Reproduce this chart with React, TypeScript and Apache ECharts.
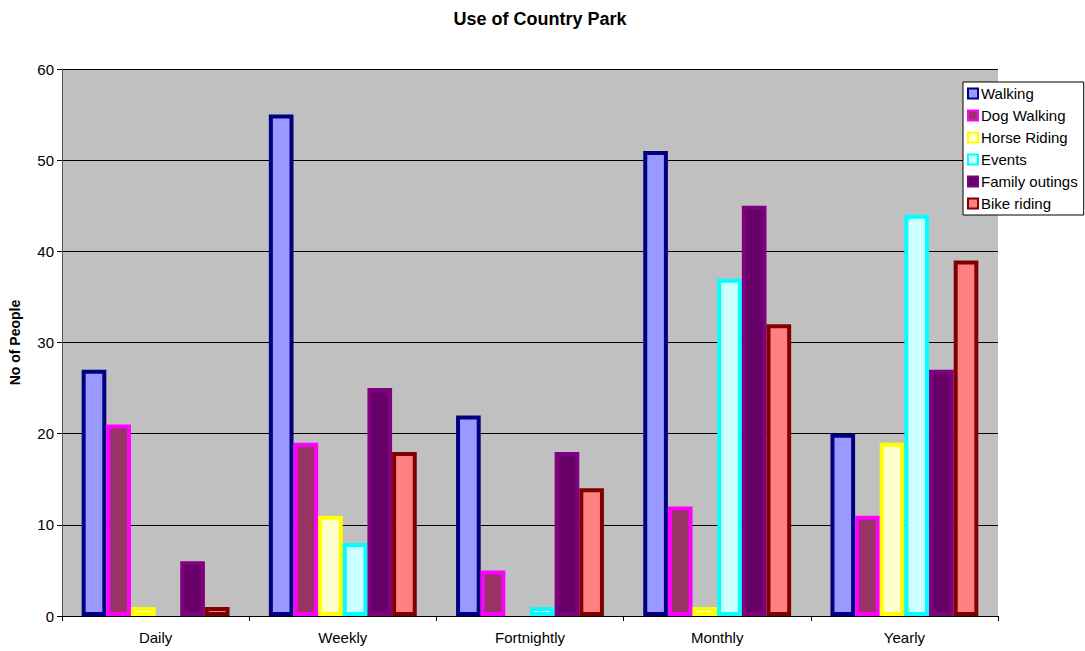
import React, { useEffect, useRef } from "react";
import * as echarts from "echarts";

const categories = ["Daily", "Weekly", "Fortnightly", "Monthly", "Yearly"];
const walking = [27, 55, 22, 51, 20];
const dogWalking = [21, 19, 5, 12, 11];
const horseRiding = [1, 11, 0, 1, 19];
const events = [0, 8, 1, 37, 44];
const familyOutings = [6, 25, 18, 45, 27];
const bikeRiding = [1, 18, 14, 32, 39];

const seriesDefs = [
  { name: "Walking", data: walking, fill: "#9999FF", border: "#000080" },
  { name: "Dog Walking", data: dogWalking, fill: "#993366", border: "#FF00FF" },
  { name: "Horse Riding", data: horseRiding, fill: "#FFFFCC", border: "#FFFF00" },
  { name: "Events", data: events, fill: "#CCFFFF", border: "#00FFFF" },
  { name: "Family outings", data: familyOutings, fill: "#660066", border: "#800080" },
  { name: "Bike riding", data: bikeRiding, fill: "#FF8080", border: "#800000" },
];

export default function App() {
  const ref = useRef<HTMLDivElement>(null);
  useEffect(() => {
    if (!ref.current) return;
    const chart = echarts.init(ref.current, undefined, { renderer: "svg" });
    const font = "Arial, 'Liberation Sans', sans-serif";
    chart.setOption({
      animation: false,
      backgroundColor: "#FFFFFF",
      textStyle: { fontFamily: font },
      title: {
        text: "Use of Country Park",
        left: 535,
        top: 5,
        textAlign: "center",
        textStyle: { fontSize: 18, fontWeight: "bold", color: "#000", fontFamily: font },
      },
      legend: {
        orient: "vertical",
        left: 963,
        top: 82,
        itemWidth: 10,
        itemHeight: 10,
        itemGap: 7,
        padding: [4, 6, 4, 4],
        backgroundColor: "#FFFFFF",
        borderColor: "#000",
        borderWidth: 1,
        borderRadius: 0,
        icon: "rect",
        textStyle: { fontSize: 15, color: "#000", fontFamily: font, padding: [0, 0, 0, -2] },
        data: seriesDefs.map((s) => s.name),
      },
      grid: {
        left: 62,
        right: 87,
        top: 69,
        bottom: 35,
        show: true,
        backgroundColor: "#C0C0C0",
        borderWidth: 0,
      },
      xAxis: {
        type: "category",
        data: categories,
        axisLine: { lineStyle: { color: "#000", width: 1 } },
        axisTick: { show: true, length: 5, lineStyle: { color: "#000" } },
        axisLabel: { fontSize: 15, color: "#000", margin: 14, fontFamily: font },
      },
      yAxis: {
        type: "value",
        min: 0,
        max: 60,
        interval: 10,
        name: "No of People",
        nameLocation: "middle",
        nameGap: 40,
        nameTextStyle: { fontSize: 14, fontWeight: "bold", color: "#000", fontFamily: font },
        axisLine: { show: true, lineStyle: { color: "#555", width: 1 } },
        axisTick: { show: true, length: 5, lineStyle: { color: "#000" } },
        axisLabel: { fontSize: 15, color: "#000", margin: 8, fontFamily: font },
        splitLine: { show: true, lineStyle: { color: "#000", width: 1 } },
      },
      series: seriesDefs.map((s) => ({
        name: s.name,
        type: "bar",
        // zero-valued bars have no outline
        data: s.data.map((v) => (v === 0 ? { value: v, itemStyle: { borderWidth: 0 } } : v)),
        barGap: "0%",
        barCategoryGap: "21%",
        itemStyle: { color: s.fill, borderColor: s.border, borderWidth: 4 },
      })),
    });
    return () => chart.dispose();
  }, []);
  return <div ref={ref} style={{ width: 1085, height: 651, position: "absolute", left: 0, top: 0 }} />;
}
